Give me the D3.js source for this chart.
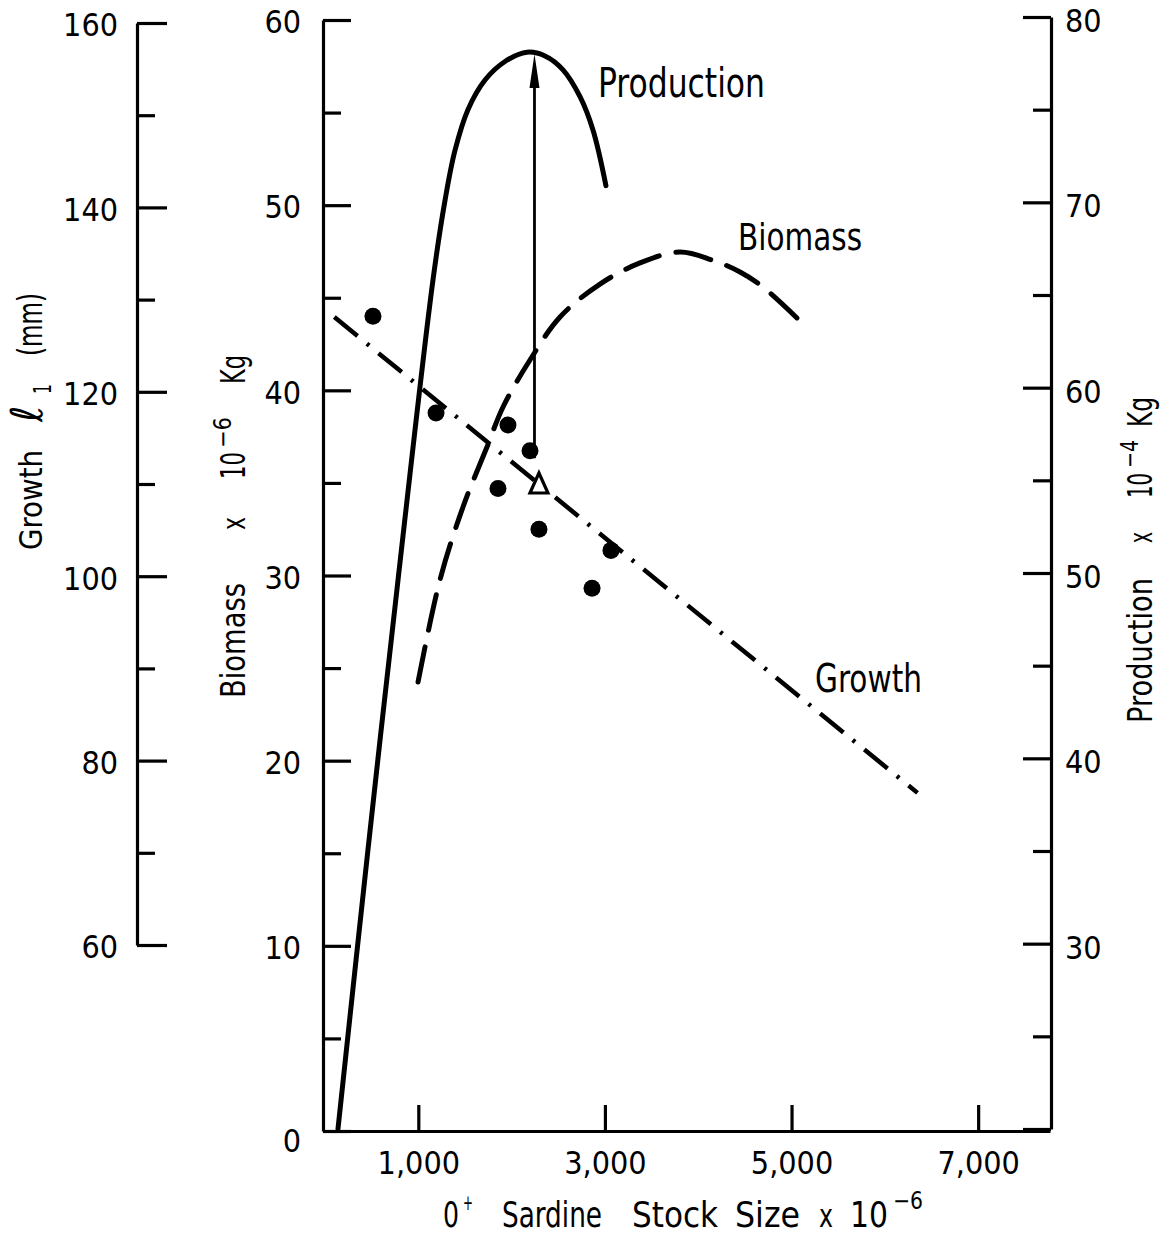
<!DOCTYPE html>
<html><head><meta charset="utf-8">
<script src="https://cdn.jsdelivr.net/npm/d3@7/dist/d3.min.js"></script>
<style>
html,body{margin:0;padding:0;background:#fff;}
svg text{font-family:"DejaVu Sans Condensed","Liberation Sans Narrow",sans-serif;fill:#000;}
</style></head>
<body>
<svg id="chart" width="1169" height="1239"></svg>
<script>
// ---------- DATA ----------
const stockTicks = [1000, 3000, 5000, 7000];
const growthTicks = [60, 80, 100, 120, 140, 160];
const growthMinor = [70, 90, 110, 130, 150];
const biomassTicks = [0, 10, 20, 30, 40, 50, 60];
const biomassMinor = [5, 15, 25, 35, 45, 55];
const productionTicks = [20, 30, 40, 50, 60, 70, 80];
const productionMinor = [25, 35, 45, 55, 65, 75];

// Production curve (stock x10^-6, production x10^-4 kg)
const prodStock = [139, 461, 782, 1157, 1286, 1393, 1532, 1715, 1929, 2165, 2358, 2551, 2733, 2872, 3011];
const prodValue = [20.0, 35.1, 49.6, 65.8, 70.1, 72.8, 75.0, 76.6, 77.6, 78.1, 77.9, 77.15, 75.7, 73.9, 70.9];

// Biomass curve (stock x10^-6, biomass x10^-6 kg)
const bioStock = [997, 1232, 1479, 1736, 1908, 2197, 2519, 2947, 3376, 3805, 4147, 4448, 4694, 5058];
const bioValue = [24.25, 29.76, 33.70, 36.94, 39.10, 41.64, 43.96, 45.74, 46.88, 47.47, 47.04, 46.39, 45.58, 43.91];

// Growth regression line (stock x10^-6, l1 mm)
const growthStock = [100, 6350];
const growthValue = [128.1, 76.5];

// Observed growth points
const obsStock = [514, 1190, 1961, 2197, 1854, 2293, 3065, 2862];
const obsGrowth = [128.2, 117.7, 116.4, 113.6, 109.5, 105.1, 102.8, 98.7];

// Open triangle and arrow to the production maximum
const triStock = 2293, triGrowth = 110.0;
const arrowStock = 2245, arrowFromGrowth = 112.8, arrowToProduction = 78.0;

// ---------- SCALES ----------
const svg = d3.select("#chart");
const x = d3.scaleLinear().domain([0, 7770]).range([325, 1050]);
const yG = d3.scaleLinear().domain([60, 160]).range([945, 23]);
const yB = d3.scaleLinear().domain([0, 60]).range([1131, 20]);
const yP = d3.scaleLinear().domain([20, 80]).range([1129, 17]);

const numFont = 32;
function styleAxis(g, w) {
  g.selectAll("path.domain").attr("stroke", "#000").attr("stroke-width", w);
  g.selectAll(".tick line").attr("stroke", "#000").attr("stroke-width", w);
  g.selectAll(".tick text").attr("font-size", numFont).attr("fill", "#000")
    .attr("font-family", null);
}

// Growth axis (far left)
const gG = svg.append("g").attr("transform", "translate(137,0)");
gG.call(d3.axisLeft(yG).tickValues(growthTicks).tickSize(-30).tickSizeOuter(0).tickPadding(19));
gG.append("g").call(d3.axisLeft(yG).tickValues(growthMinor).tickSize(-18).tickFormat(""))
  .select("path.domain").remove();
styleAxis(gG, 3.2);
gG.selectAll(".tick text").attr("dy", "0.4em");

// Biomass axis
const gB = svg.append("g").attr("transform", "translate(323,0)");
gB.call(d3.axisLeft(yB).tickValues(biomassTicks).tickSize(-28).tickSizeOuter(0).tickPadding(22));
gB.append("g").call(d3.axisLeft(yB).tickValues(biomassMinor).tickSize(-18).tickFormat(""))
  .select("path.domain").remove();
styleAxis(gB, 3.2);
gB.selectAll(".tick text").attr("dy", d => d === 0 ? "0.65em" : "0.4em");

// Production axis (right)
const gP = svg.append("g").attr("transform", "translate(1051,0)");
gP.call(d3.axisRight(yP).tickValues(productionTicks).tickSize(-28).tickSizeOuter(0).tickPadding(14)
  .tickFormat(d => d === 20 ? "" : d));
gP.append("g").call(d3.axisRight(yP).tickValues(productionMinor).tickSize(-18).tickFormat(""))
  .select("path.domain").remove();
styleAxis(gP, 3.2);
gP.selectAll(".tick text").attr("dy", "0.45em");

// Stock axis (bottom)
const gX = svg.append("g").attr("transform", "translate(0,1131)");
gX.call(d3.axisBottom(x).tickValues(stockTicks).tickSize(-26).tickSizeOuter(0).tickPadding(16)
  .tickFormat(d3.format(",")));
styleAxis(gX, 3.2);
gX.selectAll(".tick text").attr("dy", "0.85em");

// ---------- CURVES ----------
const prodData = prodStock.map((s, i) => [s, prodValue[i]]);
const bioData = bioStock.map((s, i) => [s, bioValue[i]]);
const growthData = growthStock.map((s, i) => [s, growthValue[i]]);

svg.append("path").datum(prodData)
  .attr("d", d3.line().x(d => x(d[0])).y(d => yP(d[1])).curve(d3.curveCatmullRom.alpha(0.5)))
  .attr("fill", "none").attr("stroke", "#000").attr("stroke-width", 5).attr("stroke-linecap", "round");

svg.append("path").datum(bioData)
  .attr("d", d3.line().x(d => x(d[0])).y(d => yB(d[1])).curve(d3.curveCatmullRom.alpha(0.5)))
  .attr("fill", "none").attr("stroke", "#000").attr("stroke-width", 5)
  .attr("stroke-dasharray", "36,17").attr("stroke-linecap", "round");

svg.append("path").datum(growthData)
  .attr("d", d3.line().x(d => x(d[0])).y(d => yG(d[1])))
  .attr("fill", "none").attr("stroke", "#000").attr("stroke-width", 4.5)
  .attr("stroke-dasharray", "30,12,3,12");

// observed points
svg.append("g").selectAll("circle").data(obsStock).join("circle")
  .attr("cx", d => x(d)).attr("cy", (d, i) => yG(obsGrowth[i])).attr("r", 8.5).attr("fill", "#000");

// arrow
const ax = x(arrowStock), ay0 = yG(arrowFromGrowth), ay1 = yP(arrowToProduction);
svg.append("line").attr("x1", ax).attr("x2", ax).attr("y1", ay0).attr("y2", ay1 + 20)
  .attr("stroke", "#000").attr("stroke-width", 2.8);
svg.append("path")
  .attr("d", `M${ax},${ay1} L${ax - 5},${ay1 + 34} L${ax + 5},${ay1 + 34} Z`)
  .attr("fill", "#000");

// triangle
const tx = x(triStock), ty = yG(triGrowth);
svg.append("path")
  .attr("d", `M${tx},${ty - 11} L${tx - 9},${ty + 9} L${tx + 9},${ty + 9} Z`)
  .attr("fill", "#fff").attr("stroke", "#000").attr("stroke-width", 3.2).attr("stroke-linejoin", "miter");

// ---------- LABELS ----------
function word(g, t, x0, x1, y, size) {
  return g.append("text").attr("x", x0).attr("y", y).attr("font-size", size)
    .attr("textLength", x1 - x0).attr("lengthAdjust", "spacingAndGlyphs").text(t);
}

word(svg, "Production", 598, 765, 97, 40);
word(svg, "Biomass", 738, 862, 250, 38);
word(svg, "Growth", 815, 922, 692, 39);

// Growth axis title (rotated; positions measured along the axis, upward)
const tG = svg.append("g").attr("transform", "translate(42,550) rotate(-90)");
word(tG, "Growth", 0, 100, 0, 32);
tG.append("text").attr("x", 128).attr("y", 0).attr("font-size", 44)
  .attr("font-family", "DejaVu Serif").attr("font-style", "italic").attr("font-weight", "normal").text("ℓ");
word(tG, "1", 156, 166, 9, 24);
word(tG, "(mm)", 194, 257, 0, 34);

// Biomass axis title
const tB = svg.append("g").attr("transform", "translate(245,698) rotate(-90)");
word(tB, "Biomass", 0, 115, 0, 33);
word(tB, "x", 168, 181, 0, 32);
word(tB, "10", 219, 246, 0, 33);
word(tB, "−6", 250, 281, -14, 24);
word(tB, "Kg", 314, 343, 0, 33);

// Production axis title
const tP = svg.append("g").attr("transform", "translate(1152,723) rotate(-90)");
word(tP, "Production", 0, 145, 0, 33);
word(tP, "x", 180, 191, 0, 32);
word(tP, "10", 225, 250, 0, 33);
word(tP, "−4", 255, 283, -14, 24);
word(tP, "Kg", 296, 326, 0, 33);

// Stock axis title
const tX = svg.append("g").attr("transform", "translate(0,1227)");
word(tX, "0", 443, 459, 0, 36);
word(tX, "+", 463, 473, -17, 22);
word(tX, "Sardine", 502, 602, 0, 36);
word(tX, "Stock", 632, 718, 0, 36);
word(tX, "Size", 735, 800, 0, 36);
word(tX, "x", 819, 833, 0, 32);
word(tX, "10", 850, 888, 0, 36);
word(tX, "−6", 893, 923, -18, 24);
</script>
</body></html>
